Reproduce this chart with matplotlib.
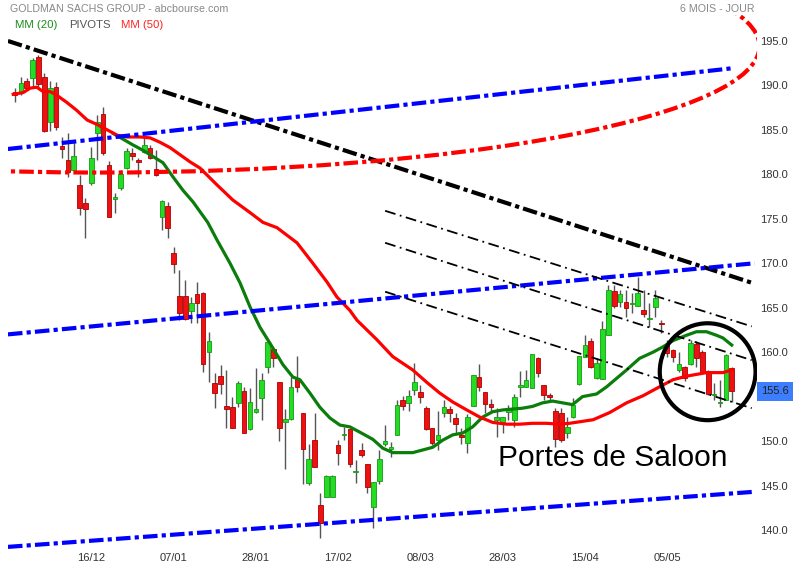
import numpy as np
import matplotlib.pyplot as plt
from matplotlib.patches import Ellipse

plt.rcParams['font.family'] = ['Liberation Sans', 'DejaVu Sans']

# daily candles
opens = [189.3, 189.3, 190.5, 190.8, 193.2, 191.0, 185.9, 189.8, 183.2, 181.6,
         180.5, 178.8, 176.8, 179.0, 184.7, 186.8, 181.1, 177.2, 178.5, 180.7,
         182.4, 181.6, 182.5, 183.0, 180.6, 175.2, 176.4, 171.2, 166.3, 166.3,
         164.6, 166.5, 166.7, 160.0, 156.5, 157.3, 153.9, 153.8, 154.3, 155.6,
         151.4, 153.3, 154.8, 158.3, 160.4, 156.6, 152.1, 152.5, 157.0, 153.2,
         145.3, 150.1, 142.8, 143.7, 143.7, 149.6, 150.7, 151.4, 146.5, 149.0,
         147.4, 142.6, 145.5, 149.7, 149.1, 150.7, 154.6, 154.3, 155.7, 155.5,
         153.7, 151.5, 150.1, 153.2, 153.6, 152.6, 150.7, 149.8, 153.9, 157.2,
         155.5, 154.2, 152.4, 152.1, 153.3, 152.4, 156.1, 156.1, 156.0, 159.3,
         156.3, 155.2, 153.4, 153.2, 150.9, 152.7, 156.4, 159.5, 161.3, 157.1,
         157.0, 161.9, 166.9, 165.6, 165.6, 165.4, 165.2, 164.7, 163.7, 165.1,
         163.3, 160.8, 160.2, 158.0, 158.3, 158.7, 160.9, 160.0, 157.8, 155.2,
         154.3, 154.6, 158.2]
highs = [189.7, 191.0, 190.8, 193.1, 193.4, 191.4, 190.5, 190.4, 184.2, 184.7,
         183.6, 179.9, 177.3, 183.1, 186.7, 187.6, 181.5, 177.9, 180.5, 183.0,
         183.0, 181.8, 184.1, 183.3, 182.7, 177.1, 176.9, 171.8, 169.2, 168.1,
         166.2, 167.9, 166.8, 162.3, 157.7, 158.6, 158.0, 155.0, 156.8, 156.1,
         156.0, 158.2, 157.7, 161.3, 160.6, 156.6, 153.6, 157.2, 159.6, 153.2,
         149.7, 153.2, 144.2, 146.2, 146.2, 150.1, 151.6, 151.4, 147.9, 149.8,
         147.4, 145.4, 149.0, 151.8, 149.9, 154.6, 155.1, 155.7, 158.8, 156.3,
         153.9, 151.5, 153.4, 154.6, 153.9, 153.2, 151.5, 153.0, 157.4, 158.7,
         155.5, 154.7, 153.7, 152.7, 154.1, 155.3, 157.9, 158.0, 159.8, 159.5,
         156.3, 155.4, 153.7, 153.7, 152.7, 154.8, 159.6, 161.9, 161.6, 159.3,
         163.5, 167.6, 167.6, 167.0, 167.0, 166.7, 168.5, 167.0, 165.5, 167.0,
         163.6, 161.4, 160.4, 160.0, 158.4, 161.4, 161.3, 160.2, 158.0, 156.5,
         156.9, 159.8, 158.3]
lows = [188.1, 188.9, 189.5, 189.8, 189.8, 184.8, 184.9, 185.0, 181.8, 179.7,
        180.3, 175.4, 172.8, 178.8, 181.6, 182.2, 175.2, 175.7, 178.2, 180.6,
        181.6, 179.7, 182.4, 181.7, 179.8, 173.7, 172.8, 168.9, 163.6, 163.6,
        163.3, 163.3, 157.8, 156.6, 153.7, 155.3, 151.5, 151.5, 153.8, 150.9,
        151.2, 153.2, 152.4, 157.7, 158.3, 150.0, 146.9, 152.4, 155.5, 145.2,
        145.1, 147.1, 139.1, 143.7, 143.7, 147.3, 150.1, 147.1, 145.3, 148.2,
        144.2, 140.2, 145.2, 149.4, 148.2, 150.7, 153.5, 153.4, 155.2, 154.3,
        151.2, 149.6, 149.0, 152.7, 152.1, 150.9, 149.7, 148.7, 153.9, 155.6,
        153.2, 153.2, 150.5, 150.9, 152.4, 151.6, 155.0, 156.1, 156.0, 157.2,
        154.6, 154.6, 149.3, 149.9, 150.3, 152.6, 156.3, 159.5, 158.2, 157.0,
        157.0, 161.9, 165.0, 165.1, 164.0, 164.4, 165.2, 164.0, 162.8, 164.0,
        162.2, 159.5, 158.9, 157.8, 156.8, 158.6, 158.3, 157.7, 155.2, 154.6,
        153.8, 154.6, 154.4]
closes = [188.9, 190.3, 189.7, 192.9, 190.2, 184.9, 189.7, 185.3, 182.9, 180.3,
          182.1, 176.2, 176.1, 181.8, 185.9, 182.4, 175.2, 177.5, 180.0, 182.6,
          182.1, 181.4, 183.3, 181.8, 179.9, 177.0, 174.0, 169.9, 164.4, 163.7,
          165.5, 165.5, 158.7, 161.3, 155.4, 156.4, 153.6, 151.5, 156.5, 150.9,
          154.4, 153.6, 156.9, 161.1, 159.3, 151.5, 152.5, 156.1, 156.1, 149.1,
          148.0, 147.1, 140.8, 146.1, 146.1, 148.7, 150.7, 147.4, 146.5, 148.4,
          144.8, 145.4, 148.0, 150.0, 149.3, 154.1, 153.9, 155.1, 156.6, 155.0,
          151.4, 149.8, 150.7, 153.8, 153.2, 151.9, 150.5, 152.7, 157.4, 156.1,
          154.2, 153.8, 152.7, 152.7, 153.7, 155.0, 156.3, 156.9, 159.8, 157.7,
          155.2, 155.0, 150.2, 150.1, 151.6, 154.1, 159.6, 160.8, 158.3, 158.8,
          162.6, 167.0, 165.2, 166.5, 165.0, 165.5, 166.7, 164.3, 163.8, 166.1,
          163.2, 159.9, 159.5, 158.7, 157.1, 161.0, 159.3, 157.8, 155.3, 155.3,
          154.4, 159.7, 155.6]

# moving averages as drawn on the chart (candle index, value)
mm20_idx = [16.7, 20.1, 21.8, 23.5, 25.2, 26.9, 28.6, 30.3, 32.8, 34.4, 36.6, 38.3,
            40.0, 41.7, 43.4, 45.6, 47.3, 48.5, 50.2, 51.9, 53.6, 55.3, 57.0, 58.7,
            60.9, 62.6, 64.3, 67.7, 69.4, 71.1, 72.8, 74.5, 76.2, 77.9, 79.6, 81.3,
            83.0, 84.7, 86.4, 88.1, 89.8, 91.5, 93.2, 94.9, 96.6, 99.0, 100.7, 104.1,
            106.3, 108.6, 110.3, 112.0, 114.3, 116.0, 117.7, 119.4, 120.5, 122.0]
mm20_val = [184.6, 183.3, 182.7, 182.0, 181.3, 179.7, 178.2, 176.9, 174.6, 172.6,
            170.0, 167.8, 165.1, 162.8, 161.0, 158.6, 157.2, 156.9, 155.4, 153.8,
            152.6, 151.8, 151.6, 151.0, 150.2, 149.2, 148.7, 148.7, 149.0, 149.3,
            150.1, 150.7, 150.9, 151.6, 152.7, 153.3, 153.5, 153.6, 153.7, 153.9,
            154.3, 154.5, 154.3, 154.1, 155.0, 155.3, 156.1, 158.0, 159.3, 160.0,
            160.6, 161.3, 161.9, 162.3, 162.3, 161.9, 161.6, 160.8]
mm50_idx = [-0.3, 1.4, 2.6, 3.7, 4.8, 6.0, 7.1, 8.8, 10.5, 12.3, 14.0, 15.7, 17.4,
            19.1, 21.3, 23.0, 24.7, 26.4, 28.1, 29.8, 31.5, 34.4, 37.1, 40.0, 42.2,
            44.6, 48.0, 50.7, 53.1, 54.8, 57.0, 58.2, 61.6, 64.3, 67.7, 70.1, 72.3,
            74.5, 76.9, 79.1, 81.3, 83.7, 85.9, 88.1, 90.5, 92.7, 94.4, 98.4, 101.2,
            104.1, 106.9, 109.7, 112.0, 114.3, 117.7, 120.5, 122.0]
mm50_val = [189.0, 189.2, 189.7, 189.8, 189.3, 189.3, 188.9, 188.1, 187.2, 186.1,
            185.6, 185.0, 184.4, 184.2, 184.2, 184.1, 183.6, 183.0, 182.2, 181.4,
            180.7, 178.8, 177.1, 175.7, 174.6, 174.0, 172.3, 170.0, 167.9, 166.2,
            164.7, 163.6, 161.4, 159.5, 158.0, 156.6, 155.4, 154.4, 153.5, 152.7,
            152.1, 151.9, 151.9, 152.0, 152.0, 151.9, 152.0, 152.4, 153.2, 154.3,
            155.1, 156.1, 156.9, 157.3, 157.7, 157.7, 158.0]

date_labels = ['16/12', '07/01', '28/01', '17/02', '08/03', '28/03', '15/04', '05/05']
date_idx = [13, 27, 41, 55, 69, 83, 97, 111]
price_ticks = [140, 145, 150, 160, 165, 170, 175, 180, 185, 190, 195]  # 155 hidden by the last-price box
last_price = 155.6

opens = np.array(opens); highs = np.array(highs)
lows = np.array(lows); closes = np.array(closes)
x = np.arange(len(opens))
up = closes >= opens

fig = plt.figure(figsize=(8, 5.8), dpi=100)
ax = fig.add_axes([8 / 800, 30 / 580, 749 / 800, 535 / 580])
ax.set_xlim(-1.19, 126.3)
ax.set_ylim(137.75, 197.92)
for s in ax.spines.values():
    s.set_visible(False)

# candles
ax.vlines(x, lows, highs, color='#555555', lw=1, zorder=2)
body_lo = np.minimum(opens, closes)
body_h = np.maximum(np.abs(closes - opens), 0.12)
ax.bar(x[up], body_h[up], bottom=body_lo[up], width=0.8,
       color='#22dd22', edgecolor='#159915', lw=0.6, zorder=2)
ax.bar(x[~up], body_h[~up], bottom=body_lo[~up], width=0.8,
       color='#ee1111', edgecolor='#aa0000', lw=0.6, zorder=2)

# moving averages
ax.plot(mm20_idx, mm20_val, color='#0a7d0a', lw=2.3, zorder=3)
ax.plot(mm50_idx, mm50_val, color='#ff0000', lw=2.3, zorder=3)

# drawn lines
thick = (0, (3.5, 1, 1, 1))
ax.plot([-1.2, 125.9], [195.0, 167.7], color='black', lw=3, ls=thick, zorder=4)
ax.plot([-1.2, 122.5], [182.85, 191.96], color='#0000ff', lw=3, ls=thick, zorder=4)
ax.plot([-1.2, 125.9], [162.0, 170.0], color='#0000ff', lw=3, ls=thick, zorder=4)
ax.plot([-1.2, 125.9], [138.1, 144.3], color='#0000ff', lw=3, ls=thick, zorder=4)
ax.add_patch(Ellipse((14.46, 194.4), 224.5, 28.4, fill=False, edgecolor='#ff0000',
                     lw=3, ls=thick, zorder=4))

thin = (0, (6, 2.5, 1, 2.5))
for y0, y1 in [(175.9, 162.9), (172.3, 159.1), (166.8, 153.7)]:
    ax.plot([63.0, 125.4], [y0, y1], color='black', lw=1.3, ls=thin, zorder=4)

ax.add_patch(Ellipse((117.9, 157.8), 16.3, 10.9, fill=False, edgecolor='black',
                     lw=3, zorder=5))

# axes
ax.yaxis.tick_right()
ax.set_yticks(price_ticks)
ax.set_yticklabels([f'{v:.1f}' for v in price_ticks])
ax.tick_params(axis='y', length=0, pad=2, labelsize=8, labelcolor='#333333')
ax.set_xticks(date_idx)
ax.set_xticklabels(date_labels)
ax.tick_params(axis='x', length=0, pad=2, labelsize=8, labelcolor='#333333')

ax.annotate(f'{last_price:.1f}', xy=(1, last_price), xycoords=('axes fraction', 'data'),
            xytext=(3, 0), textcoords='offset points', va='center', ha='left',
            fontsize=8, color='#222222', zorder=6,
            bbox=dict(boxstyle='square,pad=0.4', fc='#3d7eff', ec='none'))

fig.text(498 / 800, 1 - 466 / 580, 'Portes de Saloon', fontsize=21.5,
         color='black', va='baseline', ha='left')

fig.text(10 / 800, 1 - 9 / 580, 'GOLDMAN SACHS GROUP - abcbourse.com',
         fontsize=7.7, color='#888888', va='center')
fig.text(15 / 800, 1 - 25 / 580, 'MM (20)', fontsize=8.2, color='#1a8c1a', va='center')
fig.text(69 / 800, 1 - 25 / 580, 'PIVOTS', fontsize=8.2, color='#555555', va='center')
fig.text(121 / 800, 1 - 25 / 580, 'MM (50)', fontsize=8.2, color='#ff2222', va='center')
fig.text(755 / 800, 1 - 9 / 580, '6 MOIS - JOUR', fontsize=7.7, color='#888888',
         va='center', ha='right')

fig.savefig('out.png', dpi=100)
